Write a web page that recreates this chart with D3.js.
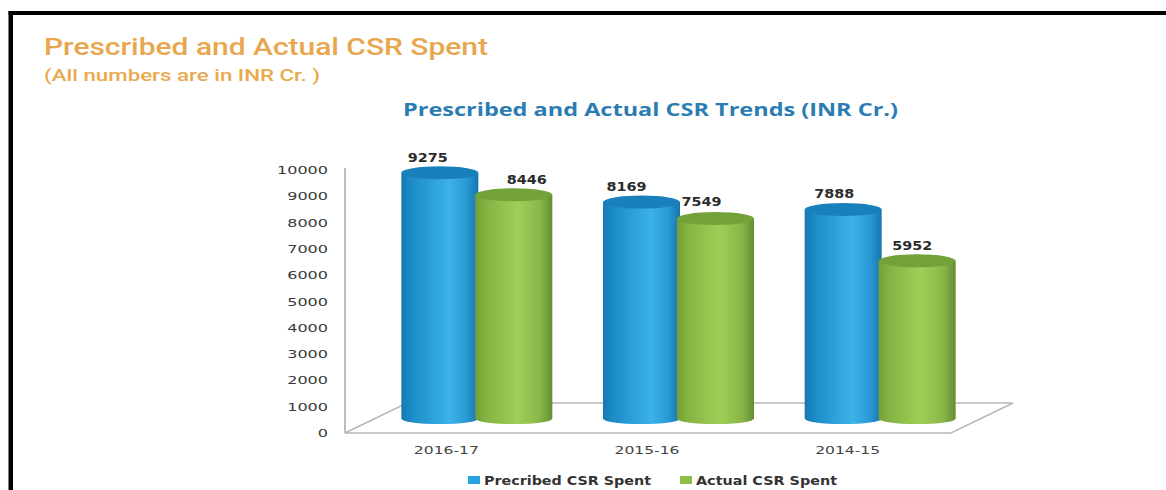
<!DOCTYPE html>
<html>
<head>
<meta charset="utf-8">
<script src="https://cdn.jsdelivr.net/npm/d3@7"></script>
<style>html,body{margin:0;padding:0;background:#fff;overflow:hidden}</style>
</head>
<body>
<div id="chart"></div>
<script>
// Chart data
const periods = ["2016-17", "2015-16", "2014-15"];
const prescribed = [9275, 8169, 7888];
const actual = [8446, 7549, 5952];
const yTicks = [0, 1000, 2000, 3000, 4000, 5000, 6000, 7000, 8000, 9000, 10000];
const seriesNames = ["Precribed CSR Spent", "Actual CSR Spent"];

const W = 1166, H = 490;
const svg = d3.select("#chart").append("svg").attr("width", W).attr("height", H).style("display", "block");

// Wide lettering: every label is set to a fixed run length
const stretch = (sel, len) => sel.attr("textLength", len).attr("lengthAdjust", "spacingAndGlyphs");

// Page frame: heavy rule along the top and left edges only
svg.append("rect").attr("x", 8.5).attr("y", 11).attr("width", W - 8.5).attr("height", 4).attr("fill", "#000");
svg.append("rect").attr("x", 8.5).attr("y", 11).attr("width", 4.5).attr("height", H - 11).attr("fill", "#000");

// Headings
svg.append("text").attr("x", 44).attr("y", 55).attr("font-family", "Roboto").attr("font-weight", 500)
  .attr("font-size", 23.5).attr("fill", "#e8a74f").text("Prescribed and Actual CSR Spent").call(stretch, 444);
svg.append("text").attr("x", 44).attr("y", 80.5).attr("font-family", "Roboto").attr("font-weight", 500)
  .attr("font-size", 16).attr("fill", "#e8a94f").text("(All numbers are in INR Cr. )").call(stretch, 276);
svg.append("text").attr("x", 403).attr("y", 115.5).attr("font-family", "Open Sans")
  .attr("font-weight", 700).attr("font-size", 18.5).attr("fill", "#2b7cb3")
  .text("Prescribed and Actual CSR Trends (INR Cr.)").call(stretch, 495);

// Scales: the axes sit on the front plane, the cylinders stand further back on the floor
const axisX = d3.scaleBand().domain(periods).range([346, 948]);
const axisY = d3.scaleLinear().domain([0, 10000]).range([433, 170]);
const barX = d3.scaleBand().domain(periods).range([376, 981]);
const barY = d3.scaleLinear().domain([0, 10000]).range([418.6, 153.6]);
const barW = 77, overlap = 3, capRy = 6.5, footRy = 5.5;

const defs = svg.append("defs");
function cylinderGradient(id, stops) {
  const g = defs.append("linearGradient").attr("id", id).attr("x1", 0).attr("x2", 1).attr("y1", 0).attr("y2", 0);
  stops.forEach(([o, c]) => g.append("stop").attr("offset", o).attr("stop-color", c));
}
cylinderGradient("blueSide", [[0, "#1678b0"], [0.14, "#1c8dc7"], [0.62, "#3cb2e8"], [0.84, "#2a9bd5"], [1, "#1676ad"]]);
cylinderGradient("greenSide", [[0, "#749f38"], [0.14, "#86b342"], [0.55, "#a0cf58"], [0.84, "#8ab648"], [1, "#618f30"]]);

// Floor and value-axis line
const fx0 = 345, fx1 = 951, fy0 = 433, fy1 = 403, floorDepth = 62;
svg.append("path").attr("fill", "none").attr("stroke", "#b8b8b8").attr("stroke-width", 1.6)
  .attr("d", d3.line()([[fx0, fy0], [fx1, fy0], [fx1 + floorDepth, fy1], [fx0 + floorDepth, fy1], [fx0, fy0]]));
svg.append("path").attr("fill", "none").attr("stroke", "#bdbdbd").attr("stroke-width", 2)
  .attr("d", d3.line()([[fx0, axisY(10000) - 2], [fx0, fy0]]));

// Value axis, labels only
const yAxis = d3.axisLeft(axisY).tickValues(yTicks).tickSize(0).tickPadding(17).tickFormat(d3.format("d"));
const yG = svg.append("g").attr("transform", `translate(${fx0},0)`).call(yAxis);
yG.select(".domain").remove();
yG.selectAll("text").attr("font-family", "DejaVu Sans").attr("font-size", 11).attr("fill", "#3a3a3a")
  .attr("textLength", d => String(d).length * 10.2).attr("lengthAdjust", "spacingAndGlyphs");

// Category axis
const xAxis = d3.axisBottom(axisX).tickSize(0).tickPadding(13);
const xG = svg.append("g").attr("transform", `translate(0,${fy0})`).call(xAxis);
xG.select(".domain").remove();
xG.selectAll("text").attr("font-family", "DejaVu Sans").attr("font-size", 11).attr("fill", "#444")
  .attr("textLength", 65).attr("lengthAdjust", "spacingAndGlyphs");

// Sideways offsets and lifts of the value labels above their cylinders
const prescribedLabelDx = [-12, -15, -9];
const actualLabelDx = [13, -14, -5];
const prescribedLabelLift = [11, 11, 12];
const actualLabelLift = [11, 13, 11];

// One cylinder: side wall, rounded foot, elliptical cap and value label
function cylinder(group, cx, value, side, cap, labelDx, lift) {
  const top = barY(value), base = barY(0), rx = barW / 2;
  group.append("path").attr("fill", `url(#${side})`)
    .attr("d", `M${cx - rx},${top}L${cx - rx},${base}A${rx},${footRy} 0 0 0 ${cx + rx},${base}L${cx + rx},${top}Z`);
  group.append("ellipse").attr("cx", cx).attr("cy", top).attr("rx", rx).attr("ry", capRy).attr("fill", cap);
  group.append("text").attr("x", cx + labelDx).attr("y", top - lift).attr("text-anchor", "middle")
    .attr("font-family", "DejaVu Sans").attr("font-weight", 700).attr("font-size", 12).attr("fill", "#2b2b2b")
    .text(d3.format("d")(value)).call(stretch, 40);
}

const marks = svg.append("g");
periods.forEach((p, i) => {
  const c = barX(p) + barX.bandwidth() / 2;
  const g = marks.append("g");
  cylinder(g, c - barW / 2 + overlap / 2, prescribed[i], "blueSide", "#1a80bb", prescribedLabelDx[i], prescribedLabelLift[i]);
  cylinder(g, c + barW / 2 - overlap / 2, actual[i], "greenSide", "#74a23a", actualLabelDx[i], actualLabelLift[i]);
});

// Legend
const legendColors = ["#27a3dd", "#8cc04a"];
const legendX = [468, 680];
const legendLen = [167, 141];
seriesNames.forEach((n, i) => {
  svg.append("rect").attr("x", legendX[i]).attr("y", 476).attr("width", 12).attr("height", 8).attr("fill", legendColors[i]);
  svg.append("text").attr("x", legendX[i] + 16).attr("y", 485).attr("font-family", "DejaVu Sans").attr("font-weight", 700)
    .attr("font-size", 12).attr("fill", "#333").text(n).call(stretch, legendLen[i]);
});
</script>
</body>
</html>
